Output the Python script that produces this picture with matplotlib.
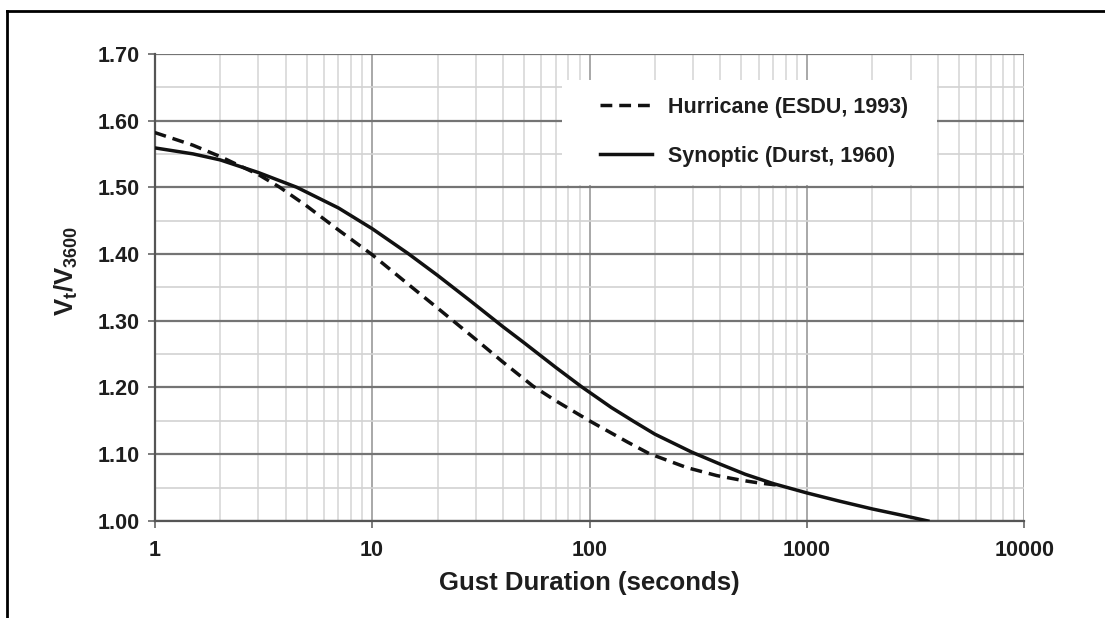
import numpy as np
import matplotlib
matplotlib.use("Agg")
import matplotlib.pyplot as plt
from matplotlib.lines import Line2D
from matplotlib.patches import Rectangle
from matplotlib.ticker import MultipleLocator, LogLocator, NullFormatter

# gust duration (s) and Vt/V3600
HURRICANE_T = [1, 1.5, 2, 3, 3.76, 5, 7, 10, 15, 20, 30, 40, 55, 70,
               100, 150, 188, 280, 385, 500, 600, 720]
HURRICANE_V = [1.582, 1.563, 1.546, 1.519, 1.500, 1.472, 1.436, 1.399,
               1.352, 1.319, 1.272, 1.238, 1.202, 1.180, 1.150, 1.118,
               1.101, 1.080, 1.068, 1.061, 1.057, 1.054]

SYNOPTIC_T = [1, 1.5, 2, 3, 4.5, 7, 10, 14.6, 20, 28, 40, 50, 70, 92,
              126, 160, 200, 296, 400, 520, 700, 1000, 1400, 2000, 2700,
              3600]
SYNOPTIC_V = [1.559, 1.550, 1.541, 1.522, 1.500, 1.469, 1.438, 1.401,
              1.368, 1.331, 1.291, 1.267, 1.230, 1.201, 1.170, 1.149,
              1.130, 1.103, 1.085, 1.070, 1.056, 1.042, 1.030, 1.018,
              1.009, 1.000]

X_TICKS = [1, 10, 100, 1000, 10000]
X_TICK_LABELS = ["1", "10", "100", "1000", "10000"]
Y_TICKS = [1.00, 1.10, 1.20, 1.30, 1.40, 1.50, 1.60, 1.70]

LABELS = [
    "Hurricane (ESDU, 1993)",
    "Synoptic (Durst, 1960)",
]

TEXT = "#1e1e1e"
LINE = "#111111"

plt.rcParams["font.family"] = ["Liberation Sans", "DejaVu Sans"]
plt.rcParams["font.weight"] = "bold"
plt.rcParams["mathtext.fontset"] = "custom"
plt.rcParams["mathtext.rm"] = "Liberation Sans:bold"
plt.rcParams["mathtext.it"] = "Liberation Sans:bold"
plt.rcParams["mathtext.bf"] = "Liberation Sans:bold"

fig = plt.figure(figsize=(11.05, 6.18), dpi=100)
ax = fig.add_axes([0.140, 0.157, 0.787, 0.756])

ax.plot(
    HURRICANE_T,
    HURRICANE_V,
    color=LINE,
    linewidth=2.5,
    linestyle=(0, (3.4, 2.0)),
    label=LABELS[0],
    zorder=3,
)

ax.plot(
    SYNOPTIC_T,
    SYNOPTIC_V,
    color=LINE,
    linewidth=2.5,
    label=LABELS[1],
    zorder=4,
)

ax.set_xscale("log")
ax.set_xlim(1, 10000)
ax.set_ylim(1.0, 1.7)

ax.set_xticks(X_TICKS)
ax.set_xticklabels(X_TICK_LABELS)
ax.xaxis.set_minor_locator(LogLocator(base=10, subs=np.arange(2, 10)))
ax.xaxis.set_minor_formatter(NullFormatter())

ax.set_yticks(Y_TICKS)
ax.set_yticklabels([f"{v:.2f}" for v in Y_TICKS])
ax.yaxis.set_minor_locator(MultipleLocator(0.05))

ax.tick_params(
    which="major",
    length=5,
    width=1.2,
    color="#666666",
    labelsize=15.5,
    labelcolor=TEXT,
)
ax.tick_params(axis="y", which="major", pad=6)
ax.tick_params(axis="x", which="major", pad=9)
ax.tick_params(which="minor", length=0)

ax.yaxis.grid(True, which="major", color="#747474", linewidth=1.6)
ax.yaxis.grid(True, which="minor", color="#d2d2d2", linewidth=1.2)
ax.xaxis.grid(True, which="major", color="#a8a8a8", linewidth=1.4)
ax.xaxis.grid(True, which="minor", color="#d8d8d8", linewidth=1.2)
ax.set_axisbelow(True)

for side in ["top", "right"]:
    ax.spines[side].set_visible(False)
for side in ["left", "bottom"]:
    ax.spines[side].set_color("#555555")
    ax.spines[side].set_linewidth(1.6)

ax.set_xlabel(
    "Gust Duration (seconds)",
    fontsize=18.5,
    fontweight="bold",
    color=TEXT,
    labelpad=7,
)
ax.set_ylabel(
    r"$\mathrm{V_t/V_{3600}}$",
    fontsize=18.5,
    color=TEXT,
)
ax.yaxis.set_label_coords(-0.086, 0.535)

# white legend panel
ax.add_patch(
    Rectangle(
        (0.468, 0.719),
        0.432,
        0.225,
        transform=ax.transAxes,
        facecolor="white",
        edgecolor="none",
        zorder=2.5,
    )
)

leg = ax.legend(
    loc="upper left",
    bbox_to_anchor=(0.512, 0.908),
    fontsize=15.5,
    frameon=False,
    handlelength=2.4,
    handletextpad=0.75,
    labelspacing=1.3,
    borderpad=0,
    borderaxespad=0,
)
for txt in leg.get_texts():
    txt.set_color(TEXT)

# outer frame (left and top edges visible in the reference)
fig.add_artist(Line2D([7 / 1105, 7 / 1105], [0, 1 - 11 / 618],
                      color="black", linewidth=2))
fig.add_artist(Line2D([7 / 1105, 1], [1 - 11 / 618, 1 - 11 / 618],
                      color="black", linewidth=2))

fig.savefig("out.png", dpi=100)
